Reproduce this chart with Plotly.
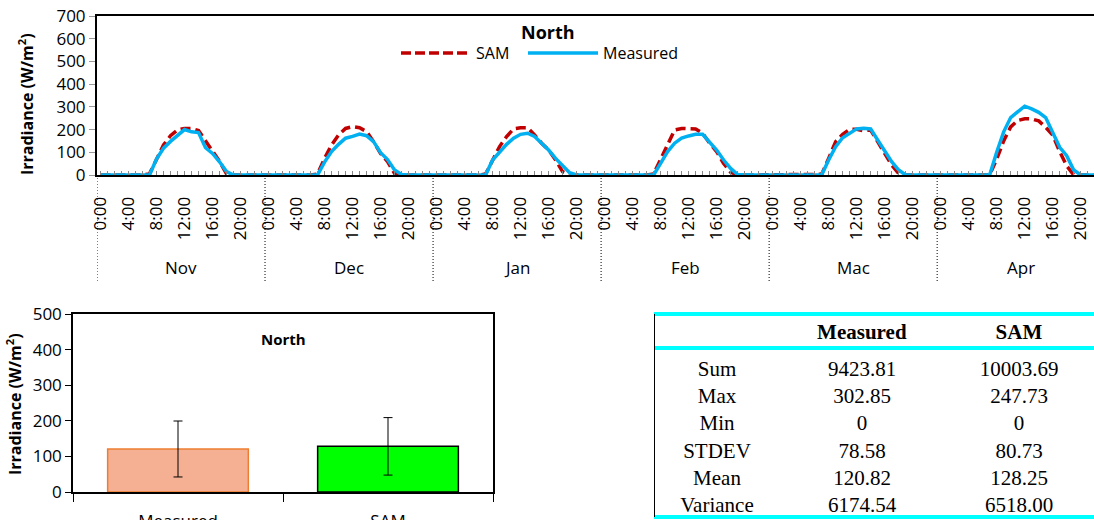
import plotly.graph_objects as go

W, H = 1094, 520

months = ["Nov", "Dec", "Jan", "Feb", "Mac", "Apr"]
hour_labels = ["0:00", "4:00", "8:00", "12:00", "16:00", "20:00"]

sam_nov = [0, 0, 0, 0, 0, 0, 0, 5, 66, 132, 173, 198, 205, 205, 196, 150, 103, 60, 5, 0, 0, 0, 0, 0]
sam_dec = [0, 0, 0, 0, 0, 0, 0, 4, 73, 132, 176, 205, 213, 208, 191, 147, 95, 59, 7, 0, 0, 0, 0, 0]
sam_jan = [0, 0, 0, 0, 0, 0, 0, 4, 66, 125, 169, 203, 208, 208, 176, 140, 110, 66, 15, 0, 0, 0, 0, 0]
sam_feb = [0, 0, 0, 0, 0, 0, 0, 4, 66, 132, 198, 205, 203, 203, 184, 140, 103, 51, 12, 0, 0, 0, 0, 0]
sam_mac = [0, 0, 0, 0, 0, 0, 0, 3, 73, 147, 179, 201, 201, 195, 198, 147, 95, 44, 7, 0, 0, 0, 0, 0]
sam_apr = [0, 0, 0, 0, 0, 0, 0, 0, 70, 150, 212, 240, 247.73, 247, 238, 210, 176, 103, 40, 0, 0, 0, 0, 0]

meas_nov = [0, 0, 0, 0, 0, 0, 0, 0, 70, 118, 148, 172, 200, 190, 187, 120, 95, 58, 15, 0, 0, 0, 0, 0]
meas_dec = [0, 0, 0, 0, 0, 0, 0, 0, 57, 103, 135, 162, 170, 180, 173, 147, 98, 68, 22, 2, 0, 0, 0, 0]
meas_jan = [0, 0, 0, 0, 0, 0, 0, 0, 66, 103, 135, 162, 179, 184, 170, 140, 110, 73, 44, 10, 0, 0, 0, 0]
meas_feb = [0, 0, 0, 0, 0, 0, 0, 0, 51, 103, 140, 162, 172, 179, 179, 147, 110, 66, 29, 2, 0, 0, 0, 0]
meas_mac = [0, 0, 0, 0, 0, 0, 0, 0, 66, 125, 164, 184, 203, 206, 203, 154, 103, 59, 22, 0, 0, 0, 0, 0]
meas_apr = [0, 0, 0, 0, 0, 0, 0, 0, 100, 190, 253, 279, 302.85, 291, 276, 253, 190, 122, 85, 22, 0, 0, 0, 0]

bar_categories = ["Measured", "SAM"]
bar_means = [120.82, 128.25]
bar_stdev = [78.58, 80.73]

stat_names = ["Sum", "Max", "Min", "STDEV", "Mean", "Variance"]
stat_measured = ["9423.81", "302.85", "0", "78.58", "120.82", "6174.54"]
stat_sam = ["10003.69", "247.73", "0", "80.73", "128.25", "6518.00"]

sam_all = sam_nov + sam_dec + sam_jan + sam_feb + sam_mac + sam_apr
meas_all = meas_nov + meas_dec + meas_jan + meas_feb + meas_mac + meas_apr
idx = list(range(len(sam_all)))

SANS = "Open Sans"
SERIF = "Liberation Serif"
RED = "#C00000"
BLUE = "#00B0F0"

def px_x(x):
    return x / W

def px_y(y):
    return (H - y) / H

def note(text, x, y, size, xanchor="center", angle=0):
    return dict(text=text, xref="paper", yref="paper", x=px_x(x), y=px_y(y),
                xanchor=xanchor, yanchor="middle", textangle=angle, showarrow=False,
                font=dict(family=SANS, size=size, color="black"))

fig = go.Figure()

fig.add_trace(go.Scatter(x=idx, y=sam_all, mode="lines", name="SAM",
                         line=dict(color=RED, width=3.5, dash="10px,5px"),
                         xaxis="x", yaxis="y", showlegend=False))
fig.add_trace(go.Scatter(x=idx, y=meas_all, mode="lines", name="Measured",
                         line=dict(color=BLUE, width=3.5),
                         xaxis="x", yaxis="y", showlegend=False))

fig.add_trace(go.Bar(x=bar_categories, y=bar_means,
                     error_y=dict(type="data", array=bar_stdev, visible=True,
                                  color="black", thickness=1, width=4.5),
                     marker=dict(color=["#F5B093", "#00FF00"],
                                 line=dict(color=["#ED7D31", "black"], width=1.5)),
                     width=0.67, xaxis="x2", yaxis="y2", showlegend=False))

fig.add_trace(go.Table(
    domain=dict(x=[px_x(654), 1.0], y=[0, px_y(312)]),
    columnwidth=[126, 164, 150],
    header=dict(values=["", "<b>Measured</b>", "<b>SAM</b>"],
                height=27, align="center",
                fill=dict(color="white"), line=dict(color="white", width=0),
                font=dict(family=SERIF, size=21, color="black")),
    cells=dict(values=[stat_names, stat_measured, stat_sam],
               height=27.3, align="center",
               fill=dict(color="white"), line=dict(color="white", width=0),
               font=dict(family=SERIF, size=21, color="black")),
))

tickvals = [m * 24 + h for m in range(len(months)) for h in range(0, 24, 4)]
ticktext = hour_labels * len(months)

shapes = []
annotations = []

for m in range(len(months)):
    shapes.append(dict(type="line", xref="x", yref="paper",
                       x0=m * 24 - 0.5, x1=m * 24 - 0.5,
                       y0=px_y(175), y1=px_y(281),
                       line=dict(color="black", width=1, dash="1px,2px")))
    annotations.append(dict(text=months[m], xref="x", yref="paper",
                            x=m * 24 + 11.5, y=px_y(267), xanchor="center", yanchor="middle",
                            showarrow=False,
                            font=dict(family=SANS, size=17, color="black")))

annotations.append(note("<b>North</b>", 548, 32, 18))
shapes.append(dict(type="line", xref="paper", yref="paper",
                   x0=px_x(401), x1=px_x(471), y0=px_y(53), y1=px_y(53),
                   line=dict(color=RED, width=3.5, dash="10px,4px")))
annotations.append(note("SAM", 474, 53, 16, xanchor="left"))
shapes.append(dict(type="line", xref="paper", yref="paper",
                   x0=px_x(528), x1=px_x(598), y0=px_y(53), y1=px_y(53),
                   line=dict(color=BLUE, width=3.5)))
annotations.append(note("Measured", 601, 53, 16, xanchor="left"))

annotations.append(note("<b>Irradiance (W/m<sup>2</sup>)</b>", 26, 104, 16, angle=-90))
annotations.append(note("<b>Irradiance (W/m<sup>2</sup>)</b>", 14, 404, 16, angle=-90))
annotations.append(note("<b>North</b>", 283, 339, 15))

for yy in (314, 348, 517):
    shapes.append(dict(type="line", xref="paper", yref="paper",
                       x0=px_x(654), x1=1.0, y0=px_y(yy), y1=px_y(yy),
                       line=dict(color="#00FFFF", width=4)))
shapes.append(dict(type="line", xref="paper", yref="paper",
                   x0=px_x(654.5), x1=px_x(654.5), y0=px_y(314), y1=px_y(517),
                   line=dict(color="black", width=1)))

fig.update_layout(
    width=W, height=H,
    margin=dict(l=0, r=0, t=0, b=0, pad=0, autoexpand=False),
    paper_bgcolor="white", plot_bgcolor="white",
    font=dict(family=SANS, size=17, color="black"),
    xaxis=dict(domain=[px_x(97), 1.0], anchor="y", automargin=False,
               range=[-0.5, 141.9],
               tickmode="array", tickvals=tickvals, ticktext=ticktext,
               tickangle=-90, ticks="", ticklabelstandoff=13,
               tickfont=dict(family=SANS, size=17, color="black"),
               showline=True, linecolor="black", linewidth=2, mirror=True,
               showgrid=False, zeroline=False,
               minor=dict(ticks="inside", tick0=0, dtick=1, ticklen=4,
                          tickcolor="#888888", tickwidth=1, showgrid=False)),
    yaxis=dict(domain=[px_y(175), px_y(16)], anchor="x", automargin=False,
               range=[0, 700], dtick=100,
               ticks="outside", ticklen=6, tickcolor="#999999",
               tickfont=dict(family=SANS, size=17, color="black"),
               showline=True, linecolor="black", linewidth=2,
               showgrid=False, zeroline=False),
    xaxis2=dict(domain=[px_x(73), px_x(493)], anchor="y2", automargin=False,
                type="category", tickson="boundaries", ticks="outside",
                ticklen=8, tickcolor="black", ticklabelstandoff=13,
                tickfont=dict(family=SANS, size=17, color="black"),
                showline=True, linecolor="black", linewidth=1.5, mirror=True,
                showgrid=False, zeroline=False),
    yaxis2=dict(domain=[px_y(492), px_y(314)], anchor="x2", automargin=False,
                range=[0, 500], dtick=100,
                ticks="outside", ticklen=6, tickcolor="black",
                tickfont=dict(family=SANS, size=17, color="black"),
                showline=True, linecolor="black", linewidth=1.5, mirror=True,
                showgrid=False, zeroline=False),
    shapes=shapes,
    annotations=annotations,
)

fig.write_html("out.html", config={"displayModeBar": False},
               post_script="document.body.style.margin='0';document.body.style.overflow='hidden';")
